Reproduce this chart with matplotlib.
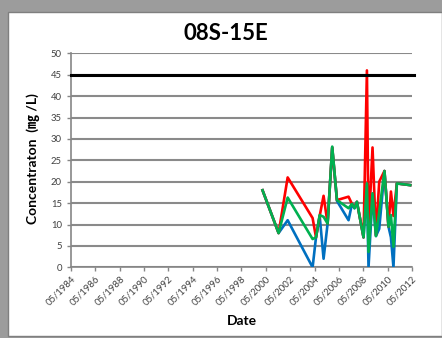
import matplotlib
matplotlib.use("Agg")
import matplotlib.pyplot as plt
import matplotlib.dates as mdates
import matplotlib.patches as patches
import pandas as pd

plt.rcParams['font.family'] = ['Lato', 'Noto Sans CJK JP', 'DejaVu Sans']

# sample dates shared by the three series
dates = ["2000-01-22", "2001-05-18", "2002-02-14", "2004-03-03", "2004-06-13",
         "2004-10-01", "2005-01-26", "2005-05-27", "2005-10-12", "2006-03-04",
         "2007-02-14", "2007-05-27", "2007-08-11", "2007-10-23", "2008-05-08",
         "2008-08-18", "2008-10-05", "2009-02-02", "2009-05-16", "2009-08-22",
         "2010-01-26", "2010-05-27", "2010-08-08", "2010-10-23", "2011-02-02",
         "2012-03-08"]
red_vals = [18, 8, 21, 11.5, 7, 12, 16.7, 10.2, 28, 15.7, 16.5, 14.8, 14, 15.3, 7,
            46, 8, 28, 7.5, 20, 22.5, 9.5, 17.7, 12, 19.6, 19.2]
green_vals = [18, 8, 16.3, 6.6, 7, 12.2, 11.8, 10.2, 28.2, 15.7, 13.8, 14.8, 13.8, 15.3, 7,
              19.6, 3.6, 17.3, 7.3, 13, 22.5, 9.5, 12.2, 4.8, 19.6, 19.2]
blue_vals = [18, 8, 11, 0, 7, 12, 2, 10.2, 28, 15.5, 11, 14.8, 13.8, 15.3, 7,
             19, 0, 17, 7.3, 9, 22.5, 9.5, 7, 0, 19.6, 19.2]
limit = 45
title = "08S-15E"
ylabel = "Concentraton  (\u338e /L)"
xlabel = "Date"

d = pd.to_datetime(dates)

fig = plt.figure(figsize=(4.42, 3.38), dpi=100)
fig.patch.set_facecolor('#9c9c9c')
# white panel behind everything
fig.patches.append(patches.Rectangle((8 / 442, 2 / 338), 434 / 442, 324 / 338,
                                     transform=fig.transFigure, facecolor='white',
                                     edgecolor='#7f7f7f', linewidth=1, zorder=-5))

ax = fig.add_axes([71 / 442, 1 - 267.3 / 338, 341 / 442, 214 / 338])
ax.set_zorder(2)
ax.set_facecolor('white')

ax.plot(d, blue_vals, color='#0070C0', lw=1.9, zorder=3)
ax.plot(d, red_vals, color='#FF0000', lw=1.9, zorder=4)
ax.plot(d, green_vals, color='#00B050', lw=1.9, zorder=5)
ax.axhline(limit, color='black', lw=2.2, zorder=6, xmax=1.005, clip_on=False)

ax.set_xlim(pd.Timestamp("1984-05-01"), pd.Timestamp("2012-05-01"))
ax.set_ylim(0, 50)
ax.set_yticks(range(0, 51, 5))
ax.yaxis.grid(True, color='#8a8a8a', lw=1.5, zorder=1)
ax.set_axisbelow(True)

ticks = pd.date_range("1984-05-01", "2012-05-01", freq="24MS")
ax.set_xticks(ticks)
ax.xaxis.set_major_formatter(mdates.DateFormatter("%m/%Y"))
plt.setp(ax.get_xticklabels(), rotation=45, ha='right', rotation_mode='anchor')

for s in ['top', 'right']:
    ax.spines[s].set_visible(False)
for s in ['left', 'bottom']:
    ax.spines[s].set_color('#868686')
    ax.spines[s].set_linewidth(1.2)
ax.tick_params(axis='both', colors='#868686', labelcolor='#404040', labelsize=6.8,
               length=3, width=1)
ax.tick_params(axis='x', pad=2)

fig.text(0.511, 0.90, title, ha='center', va='center', fontsize=16, fontweight='bold')
fig.text(0.075, 0.53, ylabel, ha='center', va='center', rotation=90,
         fontsize=10, fontweight='bold')
fig.text(0.547, 0.050, xlabel, ha='center', va='center', fontsize=10, fontweight='bold')

fig.savefig("out.png", dpi=100, facecolor=fig.get_facecolor())
